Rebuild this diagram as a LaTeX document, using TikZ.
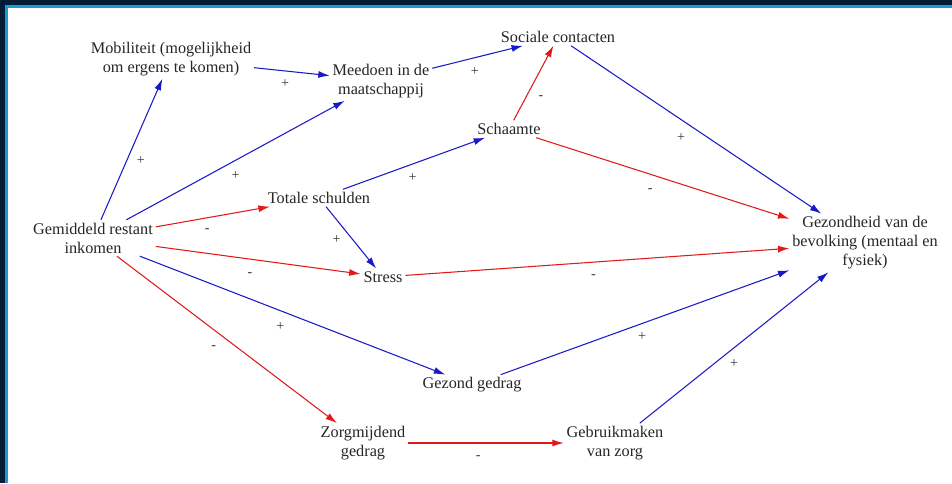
\documentclass[tikz,border=0pt]{standalone}
\usepackage{fontspec}
\setmainfont{Liberation Serif}
\usetikzlibrary{arrows.meta}
\definecolor{framenavy}{RGB}{3,27,52}
\definecolor{frameblue}{RGB}{28,152,215}
\definecolor{posblue}{RGB}{25,25,200}
\definecolor{negred}{RGB}{225,25,25}

\begin{document}
\begin{tikzpicture}[x=0.02cm, y=-0.02cm, >={Latex[length=6.5pt,width=4pt]},
        factor/.style={align=center, inner sep=1.5pt, text=black!85,
            font=\fontsize{9.25}{10.8}\selectfont},
        pos link/.style={->, draw=posblue, line width=0.6pt},
        neg link/.style={->, draw=negred, line width=0.6pt},
        sign/.style={inner sep=0pt, text=black!80, font=\fontsize{8}{9}\selectfont}]
    % frame
    \useasboundingbox (0,0) rectangle (952,483);
    \fill[framenavy] (0,0) rectangle (952,483);
    \fill[frameblue] (5,5) rectangle (952,483);
    \fill[white] (8,8) rectangle (952,483);

    \node[factor] (gem) at (93,238) {Gemiddeld restant\\inkomen};
    \node[factor] (mob) at (171,59) {Mobiliteit (mogelijkheid\\om ergens te komen)};
    \node[factor] (mee) at (381,81) {Meedoen in de\\maatschappij};
    \node[factor] (soc) at (558,37) {Sociale contacten};
    \node[factor] (sch) at (509,129) {Schaamte};
    \node[factor] (tot) at (319,198) {Totale schulden};
    \node[factor] (str) at (383,277) {Stress};
    \node[factor] (gez) at (865,243) {Gezondheid van de\\bevolking (mentaal en\\fysiek)};
    \node[factor] (gzg) at (472,385) {Gezond gedrag};
    \node[factor] (zrg) at (363,443) {Zorgmijdend\\gedrag};
    \node[factor] (geb) at (615,443) {Gebruikmaken\\van zorg};

    \path
        (gem) edge[pos link] node[sign, pos=0.42, shift={(14,0)}] {+} (mob)
        (gem) edge[pos link] node[sign, pos=0.5, shift={(0,15)}] {+} (mee)
        (mob) edge[pos link] node[sign, pos=0.41, shift={(0,13)}] {+} (mee)
        (mee) edge[pos link] node[sign, pos=0.47, shift={(0,14)}] {+} (soc)
        (gem) edge[neg link] node[sign, pos=0.45, shift={(0,13)}] {-} (tot)
        (gem) edge[neg link] node[sign, pos=0.46, shift={(0,15)}] {-} (str)
        (tot) edge[pos link] node[sign, pos=0.53, shift={(-16,0)}] {+} (str)
        (tot) edge[pos link] node[sign, pos=0.49, shift={(0,14)}] {+} (sch)
        (sch) edge[neg link] node[sign, pos=0.31, shift={(15,0)}] {-} (soc)
        (soc) edge[pos link] node[sign, pos=0.44, shift={(0,18)}] {+} (gez)
        (sch) edge[neg link] node[sign, pos=0.45, shift={(0,16)}] {-} (gez)
        (str) edge[neg link] node[sign, pos=0.49, shift={(0,14)}] {-} (gez)
        (gem) edge[pos link] node[sign, pos=0.46, shift={(0,16)}] {+} (gzg)
        (gem) edge[neg link] node[sign, pos=0.44, shift={(0,18)}] {-} (zrg)
        (gzg) edge[pos link] node[sign, pos=0.49, shift={(0,13)}] {+} (gez)
        (geb) edge[pos link] node[sign, pos=0.5, shift={(0,16)}] {+} (gez)
        (zrg) edge[neg link] node[sign, pos=0.45, shift={(0,15)}] {-} (geb);
\end{tikzpicture}
\end{document}
